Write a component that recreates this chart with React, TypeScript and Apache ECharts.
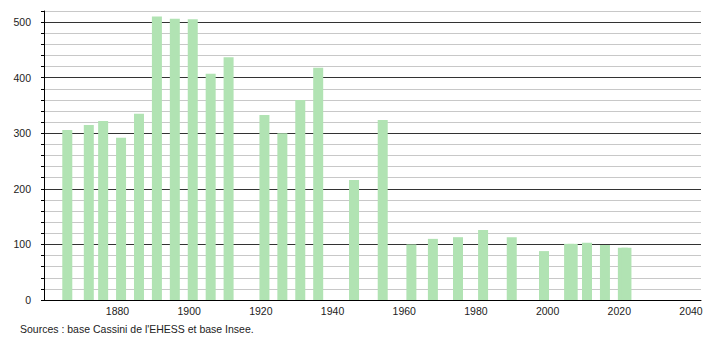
import React, { useEffect, useRef } from "react";
import * as echarts from "echarts";

const years = [1866, 1872, 1876, 1881, 1886, 1891, 1896, 1901, 1906, 1911, 1921, 1926, 1931, 1936, 1946, 1954, 1962, 1968, 1975, 1982, 1990, 1999, 2006, 2007, 2011, 2016, 2021, 2022];
const population = [306, 315, 322, 292, 335, 510, 506, 505, 407, 437, 333, 300, 360, 418, 216, 324, 100, 110, 113, 126, 113, 88, 101, 101, 103, 99, 94, 94];
const xTickLabels = [1880, 1900, 1920, 1940, 1960, 1980, 2000, 2020, 2040];
const yTickLabels = [0, 100, 200, 300, 400, 500];
const sourceText = "Sources : base Cassini de l'EHESS et base Insee.";

export default function App() {
  const ref = useRef<HTMLDivElement>(null);
  useEffect(() => {
    if (!ref.current) return;
    document.body.style.margin = "0";
    const chart = echarts.init(ref.current, null, { renderer: "svg" });
    chart.setOption({
      animation: false,
      textStyle: { fontFamily: "Liberation Sans, Arial, sans-serif" },
      grid: { left: 44, right: 9, top: 11, bottom: 40, containLabel: false, outerBoundsMode: "none" },
      xAxis: {
        type: "value",
        min: 1859.5,
        max: 2042.8,
        axisLine: { show: true, onZero: false, lineStyle: { color: "#000", width: 1 } },
        axisTick: { show: false },
        splitLine: { show: false },
        axisLabel: {
          customValues: xTickLabels,
          color: "#222",
          fontSize: 10.5,
          margin: 5,
          formatter: (v: number) => String(v),
        },
      },
      yAxis: {
        type: "value",
        min: 0,
        max: 520,
        interval: 20,
        axisLine: { show: true, lineStyle: { color: "#000", width: 1 } },
        axisTick: { show: true, length: 3, lineStyle: { color: "#000" } },
        axisLabel: {
          customValues: yTickLabels,
          color: "#222",
          fontSize: 10.5,
          margin: 13,
        },
        splitLine: {
          show: true,
          lineStyle: { color: ["#333", "#c8c8c8", "#c8c8c8", "#c8c8c8", "#c8c8c8"], width: 1 },
        },
      },
      series: [
        {
          type: "bar",
          data: years.map((y, i) => [y, population[i]]),
          barWidth: 10,
          itemStyle: { color: "#b1e3b3" },
          z: 3,
        },
      ],
      graphic: [
        {
          type: "text",
          left: 20,
          top: 323,
          style: { text: sourceText, fill: "#222", fontSize: 10.5, fontFamily: "Liberation Sans, Arial, sans-serif" },
        },
      ],
    });
    return () => chart.dispose();
  }, []);
  return <div ref={ref} style={{ position: "absolute", left: 0, top: 0, width: 710, height: 340 }} />;
}
